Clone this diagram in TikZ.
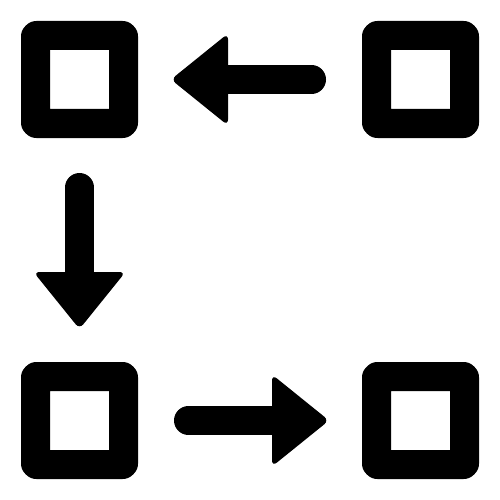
\documentclass[tikz,border=0pt]{standalone}
\usetikzlibrary{calc}
\begin{document}
\begin{tikzpicture}[x=1pt,y=-1pt,
  sq/.style={draw=black,line width=29pt,line join=round,minimum size=88pt,inner sep=0pt,outer sep=0pt,rounded corners=1pt,fill=white},
  shaft/.style={draw=black,line width=29pt,line cap=round},
  head/.style={fill=black,rounded corners=6pt}]
\useasboundingbox[fill=white] (0,0) rectangle (500,500);
\node[sq] (tl) at (79.5,79.5) {};
\node[sq] (tr) at (420.5,79.5) {};
\node[sq] (bl) at (79.5,420.5) {};
\node[sq] (br) at (420.5,420.5) {};
% top arrow: tr -> tl
\draw[shaft] ($(tr.west)+(-65,0)$) -- ($(tl.east)+(104.5,0)$);
\fill[head] ($(tl.east)+(47.5,0)$) -- ($(tl.east)+(104.5,-46)$) -- ($(tl.east)+(104.5,46)$) -- cycle;
% left arrow: tl -> bl
\draw[shaft] ($(tl.south)+(0,64)$) -- ($(bl.north)+(0,-104.5)$);
\fill[head] ($(bl.north)+(0,-47.5)$) -- ($(bl.north)+(-46,-104.5)$) -- ($(bl.north)+(46,-104.5)$) -- cycle;
% bottom arrow: bl -> br
\draw[shaft] ($(bl.east)+(65,0)$) -- ($(br.west)+(-104.5,0)$);
\fill[head] ($(br.west)+(-47.5,0)$) -- ($(br.west)+(-104.5,-46)$) -- ($(br.west)+(-104.5,46)$) -- cycle;
\end{tikzpicture}
\end{document}
